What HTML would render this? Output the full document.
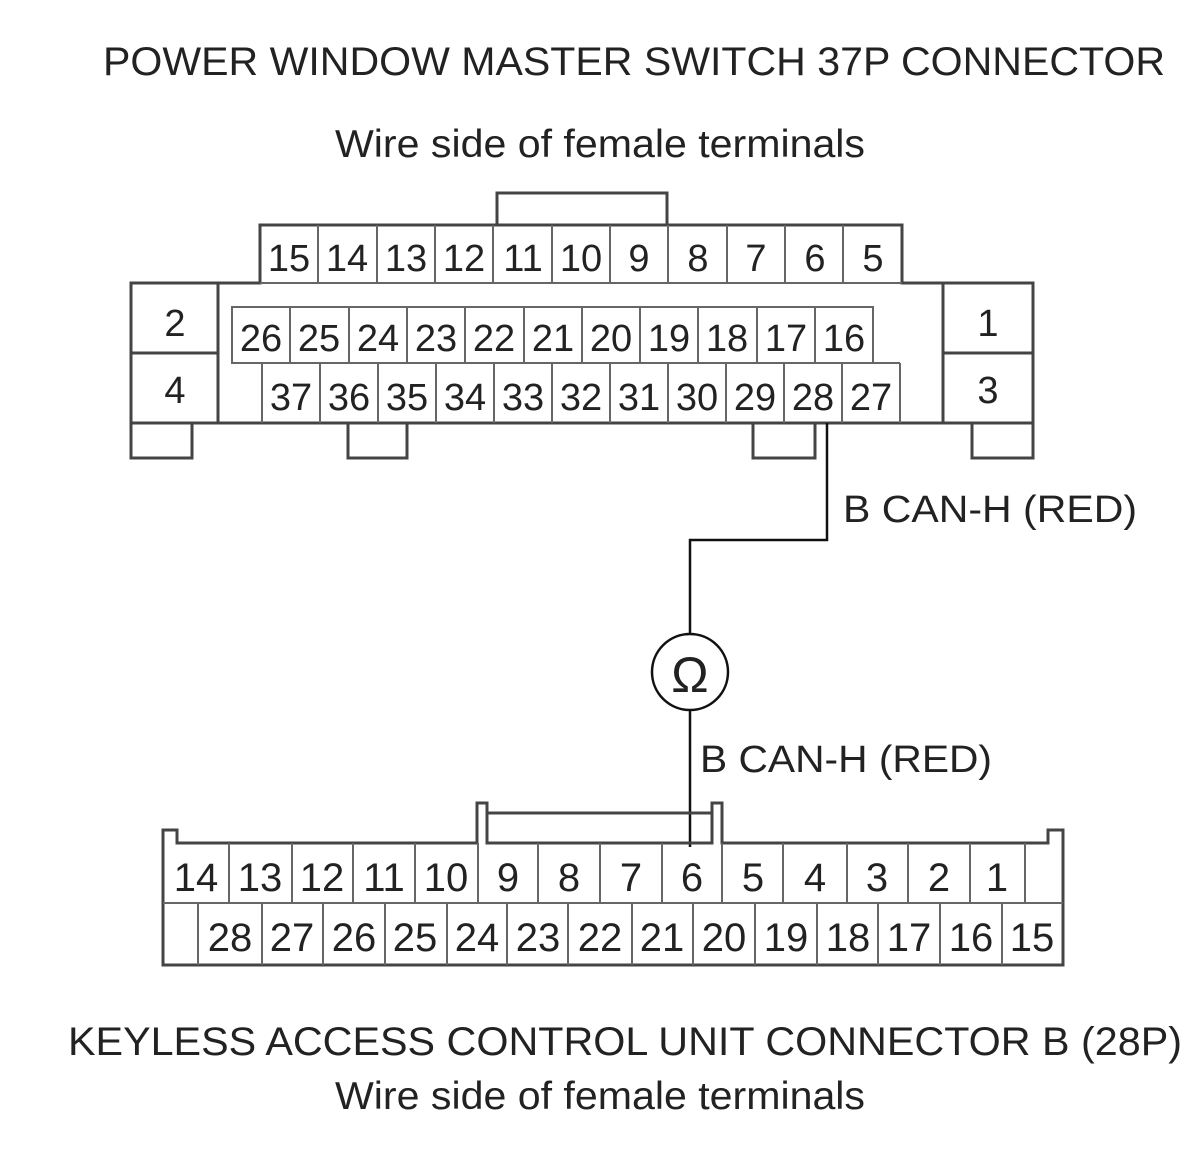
<!DOCTYPE html>
<html><head><meta charset="utf-8"><style>
html,body{margin:0;padding:0;background:#fff;}
svg{display:block;}
text{font-family:"Liberation Sans",Arial,sans-serif;fill:#222;}
</style></head><body>
<svg width="1200" height="1168" viewBox="0 0 1200 1168" xmlns="http://www.w3.org/2000/svg">
<text x="634" y="75" font-size="40" text-anchor="middle" textLength="1062" lengthAdjust="spacingAndGlyphs">POWER WINDOW MASTER SWITCH 37P CONNECTOR</text>
<text x="600" y="157" font-size="39" text-anchor="middle" textLength="530" lengthAdjust="spacingAndGlyphs">Wire side of female terminals</text>
<text x="625" y="1055" font-size="40" text-anchor="middle" textLength="1114" lengthAdjust="spacingAndGlyphs">KEYLESS ACCESS CONTROL UNIT CONNECTOR B (28P)</text>
<text x="600" y="1109" font-size="39" text-anchor="middle" textLength="530" lengthAdjust="spacingAndGlyphs">Wire side of female terminals</text>

<g fill="none" stroke="#444" stroke-width="3">
<path d="M131 283 H260 V225 H902 V283 H1033 V423 H131 Z"/>
<path d="M497 225 V193 H667 V225"/>
<line x1="218" y1="283" x2="218" y2="423"/>
<line x1="943" y1="283" x2="943" y2="423"/>
<line x1="131" y1="353" x2="218" y2="353"/>
<line x1="943" y1="353" x2="1033" y2="353"/>
<path d="M131 423 V458 H192 V423"/>
<path d="M348 423 V458 H407 V423"/>
<path d="M753 423 V458 H815 V423"/>
<path d="M972 423 V458 H1033 V423"/>
</g>
<g fill="none" stroke="#666" stroke-width="2">
<line x1="260" y1="283" x2="902" y2="283"/>
<rect x="232" y="307" width="641" height="56"/>
<path d="M262 363 V423 M900 363 V423 M873 363 H900"/>
<path d="M318 225V283M377 225V283M435 225V283M493 225V283M552 225V283M610 225V283M668 225V283M727 225V283M785 225V283M843 225V283"/>
<path d="M290 307V363M349 307V363M407 307V363M465 307V363M524 307V363M582 307V363M640 307V363M698 307V363M757 307V363M815 307V363"/>
<path d="M320 363V423M378 363V423M436 363V423M494 363V423M552 363V423M610 363V423M668 363V423M726 363V423M784 363V423M842 363V423"/>
</g>
<g font-size="38" text-anchor="middle">
<text x="175" y="336">2</text><text x="175" y="403">4</text>
<text x="988" y="336">1</text><text x="988" y="403">3</text>
<text x="289" y="271">15</text><text x="347" y="271">14</text><text x="406" y="271">13</text><text x="464" y="271">12</text><text x="523" y="271">11</text><text x="581" y="271">10</text><text x="639" y="271">9</text><text x="698" y="271">8</text><text x="756" y="271">7</text><text x="815" y="271">6</text><text x="873" y="271">5</text>
<text x="261" y="351">26</text><text x="319" y="351">25</text><text x="378" y="351">24</text><text x="436" y="351">23</text><text x="494" y="351">22</text><text x="553" y="351">21</text><text x="611" y="351">20</text><text x="669" y="351">19</text><text x="727" y="351">18</text><text x="786" y="351">17</text><text x="844" y="351">16</text>
<text x="291" y="410">37</text><text x="349" y="410">36</text><text x="407" y="410">35</text><text x="465" y="410">34</text><text x="523" y="410">33</text><text x="581" y="410">32</text><text x="639" y="410">31</text><text x="697" y="410">30</text><text x="755" y="410">29</text><text x="813" y="410">28</text><text x="871" y="410">27</text>
</g>

<g fill="none" stroke="#111" stroke-width="2.5">
<path d="M827 423 V540 H690 V634"/>
<circle cx="690" cy="672" r="38"/>
<line x1="690" y1="710" x2="690" y2="847"/>
</g>
<text x="690" y="692" font-size="50" text-anchor="middle" font-family="DejaVu Sans, Liberation Sans, sans-serif">Ω</text>
<text x="843" y="522" font-size="38" textLength="294" lengthAdjust="spacingAndGlyphs">B CAN-H (RED)</text>
<text x="700" y="772" font-size="38" textLength="292" lengthAdjust="spacingAndGlyphs">B CAN-H (RED)</text>

<g fill="none" stroke="#444" stroke-width="3">
<path d="M163 965 V830 H177 V843 H477 V803 H487 V843 H712 V803 H722 V843 H1048 V830 H1063 V965 Z"/>
<path d="M487 813 H712"/>
</g>
<g fill="none" stroke="#666" stroke-width="2">
<line x1="163" y1="903" x2="1063" y2="903"/>
<path d="M229 843V903M292 843V903M353 843V903M415 843V903M478 843V903M538 843V903M600 843V903M662 843V903M722 843V903M783 843V903M847 843V903M908 843V903M970 843V903M1025 843V903"/>
<path d="M198 903V965M262 903V965M323 903V965M385 903V965M447 903V965M507 903V965M568 903V965M632 903V965M693 903V965M755 903V965M817 903V965M878 903V965M940 903V965M1002 903V965"/>
</g>
<g font-size="40" text-anchor="middle">
<text x="196" y="891">14</text><text x="260" y="891">13</text><text x="322" y="891">12</text><text x="384" y="891">11</text><text x="446" y="891">10</text><text x="508" y="891">9</text><text x="569" y="891">8</text><text x="631" y="891">7</text><text x="692" y="891">6</text><text x="753" y="891">5</text><text x="815" y="891">4</text><text x="877" y="891">3</text><text x="939" y="891">2</text><text x="997" y="891">1</text>
<text x="230" y="951">28</text><text x="292" y="951">27</text><text x="354" y="951">26</text><text x="415" y="951">25</text><text x="477" y="951">24</text><text x="538" y="951">23</text><text x="600" y="951">22</text><text x="662" y="951">21</text><text x="724" y="951">20</text><text x="786" y="951">19</text><text x="848" y="951">18</text><text x="909" y="951">17</text><text x="971" y="951">16</text><text x="1032" y="951">15</text>
</g>
</svg>
</body></html>
